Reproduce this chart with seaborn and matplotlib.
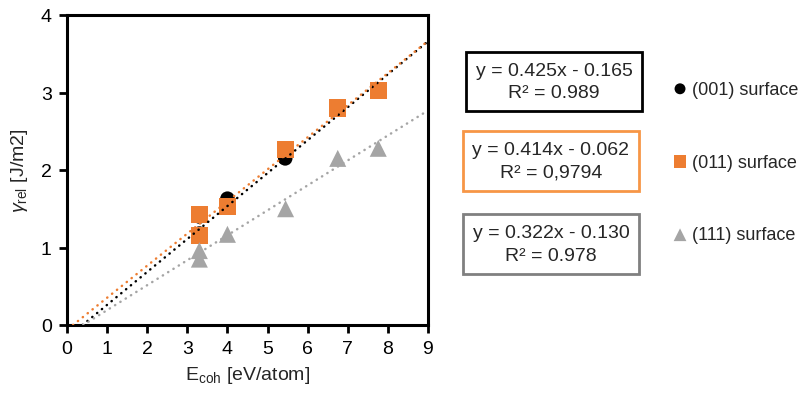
import matplotlib
matplotlib.use("Agg")
import matplotlib.pyplot as plt
import seaborn as sns
import pandas as pd
import numpy as np

FONT = "Liberation Sans"

# ---- data ----
series = ["(001) surface", "(011) surface", "(111) surface"]
x001 = [3.30, 3.30, 4.00, 5.44, 6.75, 7.76]
y001 = [1.40, 1.18, 1.63, 2.15, 2.79, 3.03]
x011 = [3.30, 3.30, 4.00, 5.45, 6.75, 7.76]
y011 = [1.42, 1.16, 1.53, 2.26, 2.80, 3.03]
x111 = [3.30, 3.30, 4.00, 5.45, 6.75, 7.76]
y111 = [0.96, 0.85, 1.17, 1.50, 2.15, 2.28]
slopes = [0.425, 0.414, 0.322]
intercepts = [-0.165, -0.062, -0.130]
eq_texts = ["y = 0.425x - 0.165\nR² = 0.989",
            "y = 0.414x - 0.062\nR² = 0,9794",
            "y = 0.322x - 0.130\nR² = 0.978"]
xticks = [0, 1, 2, 3, 4, 5, 6, 7, 8, 9]
yticks = [0, 1, 2, 3, 4]

colors = ["#000000", "#ED7D31", "#A5A5A5"]
box_edges = ["#000000", "#F79646", "#808080"]
line_colors = ["#000000", "#ED7D31", "#A5A5A5"]
markers = ["o", "s", "^"]

df = pd.concat([
    pd.DataFrame({"x": x001, "y": y001, "s": series[0]}),
    pd.DataFrame({"x": x011, "y": y011, "s": series[1]}),
    pd.DataFrame({"x": x111, "y": y111, "s": series[2]}),
])

sns.set_style("white")
plt.rcParams["font.family"] = [FONT, "DejaVu Sans"]
plt.rcParams["mathtext.fontset"] = "custom"
plt.rcParams["mathtext.rm"] = FONT
plt.rcParams["mathtext.it"] = FONT + ":italic"

FS = 14
fig = plt.figure(figsize=(8.01, 4.02), dpi=100)
ax = fig.add_axes([67/801, 1-326/402, (428-67)/801, (326-16)/402])

sizes = [110, 150, 150]
for i, name in enumerate(series):
    sub = df[df["s"] == name]
    sns.scatterplot(data=sub, x="x", y="y", ax=ax, color=colors[i], marker=markers[i],
                    s=sizes[i], edgecolor="none", label=name, zorder=2 + i)

for i in range(3):
    x0 = -intercepts[i] / slopes[i]
    xs = np.array([x0, 9.0])
    ax.plot(xs, slopes[i] * xs + intercepts[i], linestyle=(0, (0.1, 2.4)),
            dash_capstyle="round", color=line_colors[i], lw=1.8, zorder=6)

ax.set_xlim(0, 9)
ax.set_ylim(0, 4)
ax.set_xticks(xticks)
ax.set_yticks(yticks)
ax.tick_params(axis="both", direction="out", length=6, width=2, labelsize=FS,
               bottom=True, left=True, colors="black", pad=5)
for sp in ax.spines.values():
    sp.set_visible(True)
    sp.set_color("black")
    sp.set_linewidth(2.2)
ax.set_xlabel(r"E$_{\rm coh}$ [eV/atom]", fontsize=FS, labelpad=5)
ax.set_ylabel(r"$\gamma_{\rm rel}$ [J/m2]", fontsize=FS, labelpad=8)

# equation boxes
centers = [(554, 82.5), (551, 162), (551, 245)]
for i in range(3):
    cx, cy = centers[i]
    fig.text(cx/801, 1-cy/402, eq_texts[i], ha="center", va="center", multialignment="center",
             fontsize=FS, linespacing=1.45,
             bbox=dict(boxstyle="square,pad=0.5", fc="white", ec=box_edges[i], lw=2))

handles, labels = ax.get_legend_handles_labels()
leg = ax.legend(handles, labels, loc="center left", bbox_to_anchor=(671/801, 1-163/402),
                bbox_transform=fig.transFigure, frameon=False, fontsize=13,
                labelspacing=3.1, handletextpad=0.15, handlelength=1.0, markerscale=0.75,
                borderaxespad=0, borderpad=0)

fig.savefig("out.png", dpi=100)
